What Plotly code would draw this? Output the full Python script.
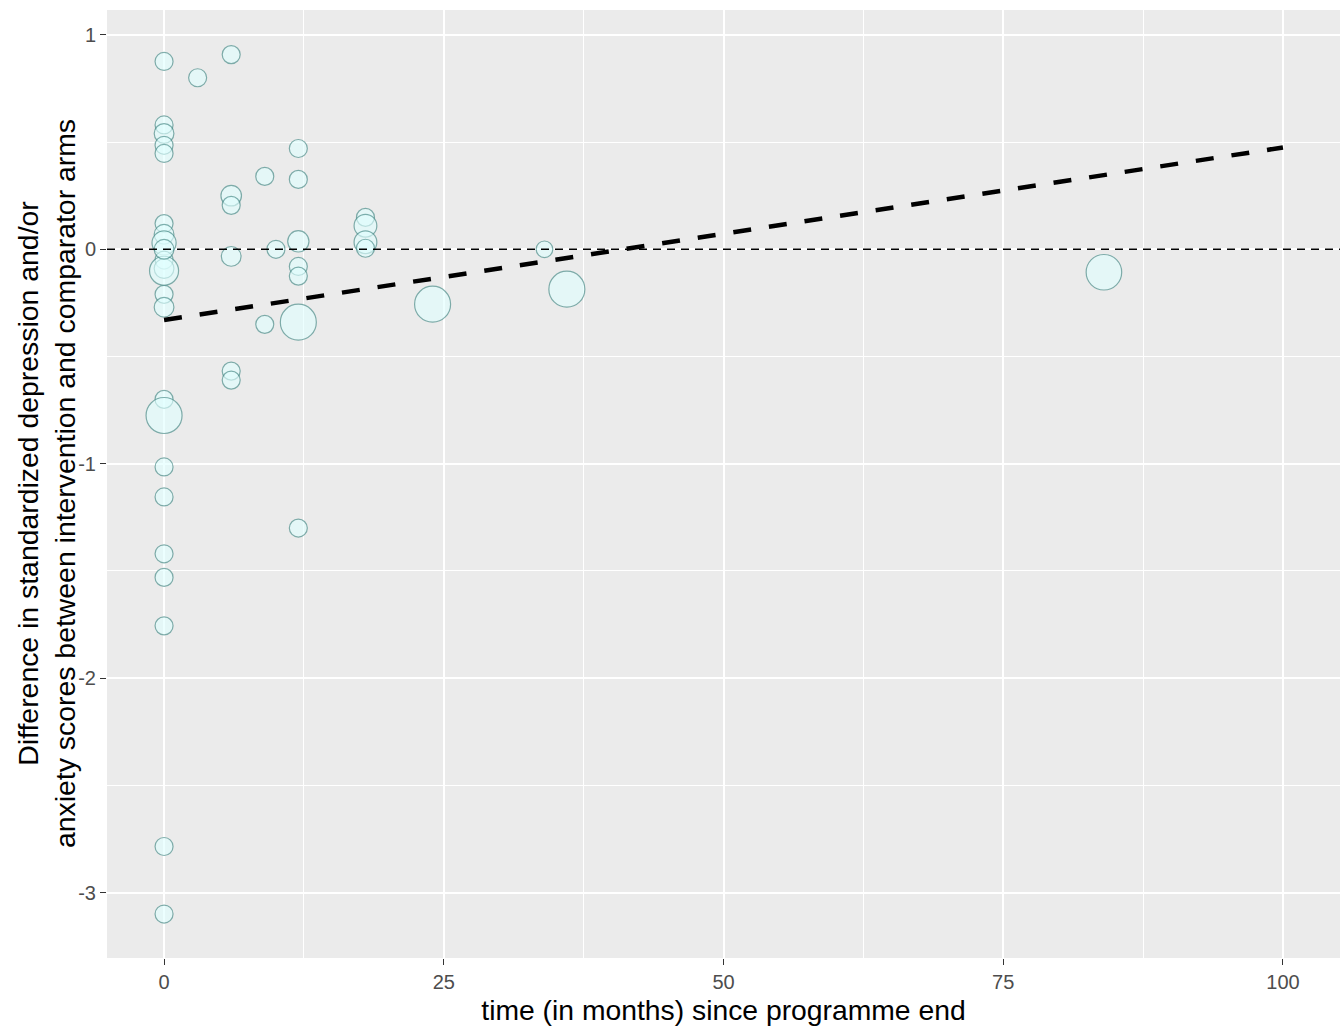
import numpy as np
import plotly.graph_objects as go

# ---- data ----
months = [0, 0, 0, 0, 0, 0, 0, 0, 0, 0, 0, 0, 0, 0,
          0, 0, 0, 0, 0, 0, 0, 0, 0,
          3,
          6, 6, 6, 6, 6, 6,
          9, 9,
          10,
          12, 12, 12, 12, 12, 12, 12,
          18, 18, 18, 18,
          24, 34, 36, 84]
effect = [0.876, 0.58, 0.54, 0.485, 0.447, 0.12, 0.07, 0.03, -0.05, -0.09, -0.10, -0.21, -0.27, -0.70,
          -0.775, -1.015, -1.155, -1.42, -1.53, -1.756, -2.785, -3.10, 0.0,
          0.80,
          0.908, 0.25, 0.205, -0.033, -0.568, -0.61,
          0.34, -0.35,
          0.0,
          0.47, 0.326, 0.037, -0.08, -0.125, -0.34, -1.30,
          0.149, 0.11, 0.033, 0.005,
          -0.256, 0.0, -0.186, -0.107]
weight = [1, 1, 1.2, 1, 1, 1, 1.2, 1.8, 1, 1.2, 2.6, 1, 1.2, 1,
          4, 1, 1, 1, 1, 1, 1, 1, 1.2,
          1,
          1, 1.3, 1, 1.2, 1, 1,
          1, 1,
          1,
          1, 1, 1.4, 1, 1, 4, 1,
          1, 1.6, 1.6, 1,
          4, 0.85, 4, 3.9]

reg_intercept = -0.33
reg_slope = 0.00805
reg_range = [0, 100]

x_ticks = [0, 25, 50, 75, 100]
x_labels = ["0", "25", "50", "75", "100"]
y_ticks = [1, 0, -1, -2, -3]
y_labels = ["1", "0", "-1", "-2", "-3"]

x_title = "time (in months) since programme end"
y_title = "Difference in standardized depression and/or<br>anxiety scores between intervention and comparator arms"

# ---- figure ----
font_family = "Liberation Sans, Arial, sans-serif"
fig = go.Figure()

fig.add_trace(go.Scatter(
    x=months, y=effect, mode="markers",
    marker=dict(size=[18 * np.sqrt(w) for w in weight], sizemode="diameter",
                color="rgba(224,255,255,0.88)",
                line=dict(color="#4f908d", width=1.2)),
    showlegend=False, hoverinfo="x+y"))

reg_x = np.array(reg_range, dtype=float)
fig.add_trace(go.Scatter(
    x=reg_x, y=reg_intercept + reg_slope * reg_x, mode="lines",
    line=dict(color="black", width=4.5, dash="18px,18px"),
    showlegend=False, hoverinfo="skip"))

fig.add_hline(y=0, line=dict(color="black", width=1.5, dash="8px,6px"), layer="above")

fig.add_annotation(text=y_title, xref="paper", yref="paper", x=0, y=0.5,
                   xshift=-61, xanchor="center", yanchor="middle", textangle=-90,
                   showarrow=False, font=dict(size=28.4, color="black", family=font_family))

fig.update_layout(
    width=1344, height=1027,
    margin=dict(l=107, r=4, t=10, b=69),
    paper_bgcolor="white", plot_bgcolor="#EBEBEB",
    font=dict(family=font_family, color="black"),
    xaxis=dict(range=[-5.1, 105.1], tickvals=x_ticks, ticktext=x_labels, showgrid=True, gridcolor="white", gridwidth=2,
               zeroline=False, ticks="outside", ticklen=6, tickcolor="#333333", tickwidth=1.2,
               tickfont=dict(size=20, color="#4D4D4D", family=font_family),
               minor=dict(showgrid=True, gridcolor="white", gridwidth=1, tick0=12.5, dtick=25),
               title=dict(text=x_title, font=dict(size=28.3), standoff=8),
               showline=False),
    yaxis=dict(range=[-3.305, 1.116], tickvals=y_ticks, ticktext=y_labels, showgrid=True, gridcolor="white", gridwidth=2,
               zeroline=False, ticks="outside", ticklen=6, tickcolor="#333333", tickwidth=1.2,
               tickfont=dict(size=20, color="#4D4D4D", family=font_family),
               minor=dict(showgrid=True, gridcolor="white", gridwidth=1, tick0=0.5, dtick=1),
               showline=False),
)

fig.write_html("out.html")
